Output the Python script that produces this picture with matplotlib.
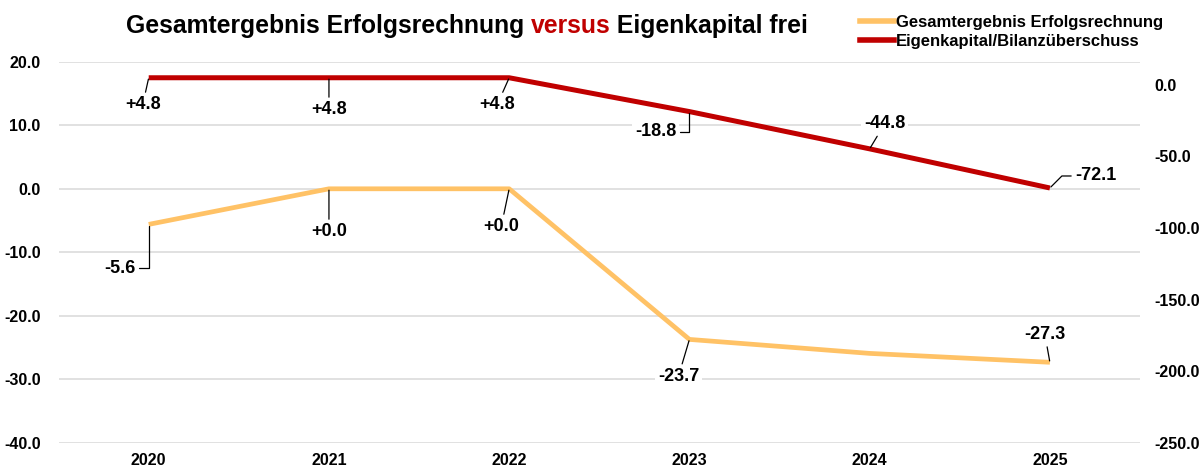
import matplotlib
matplotlib.use("Agg")
import matplotlib.pyplot as plt
from matplotlib.lines import Line2D

plt.rcParams['font.family'] = ['Liberation Sans', 'DejaVu Sans']
plt.rcParams['font.weight'] = 'bold'

# ---- data ----
years = ["2020", "2021", "2022", "2023", "2024", "2025"]
gesamtergebnis = [-5.6, 0.0, 0.0, -23.7, -25.9, -27.3]
eigenkapital = [4.8, 4.8, 4.8, -18.8, -44.8, -72.1]
ges_labels = [True, True, True, True, False, True]
eig_labels = [True, True, True, True, True, True]
left_ticks = [20, 10, 0, -10, -20, -30, -40]
right_ticks = [0, -50, -100, -150, -200, -250]
series_names = ["Gesamtergebnis Erfolgsrechnung", "Eigenkapital/Bilanzüberschuss"]

# ---- style ----
ORANGE = "#FFC266"
RED = "#C00000"
GRID = "#D9D9D9"

# label offsets (pixels) and leader styles
ges_off = [(-29, -44), (0, -43), (-8, -38), (-11, -37), (0, 0), (-5, 28)]
ges_conn = ["angle,angleA=0,angleB=90,rad=0", None, None, None, None, None]
eig_off = [(-6, -27), (0, -32), (-12, -27), (-34, -20), (15, 25), (46, 12)]
eig_conn = [None, None, None, "angle,angleA=0,angleB=90,rad=0", None,
            "angle,angleA=0,angleB=45,rad=0"]

W, H = 1201, 468
fig = plt.figure(figsize=(W / 100, H / 100), dpi=100)
ax = fig.add_axes([58.6 / W, 1 - 443 / H, (1140 - 58.6) / W, (443 - 61.7) / H])
ax2 = ax.twinx()

x = list(range(len(years)))
ax.plot(x, gesamtergebnis, color=ORANGE, lw=3.4, solid_capstyle='butt', zorder=3)
ax2.plot(x, eigenkapital, color=RED, lw=3.6, solid_capstyle='butt', zorder=3)

ax.set_xlim(-0.5, len(years) - 0.5)
ax.set_ylim(-40, 20)
ax2.set_ylim(-250, 16)

ax.set_yticks(left_ticks)
ax.set_yticklabels([f"{v:.1f}" for v in left_ticks])
ax2.set_yticks(right_ticks)
ax2.set_yticklabels([f"{v:.1f}" for v in right_ticks])
ax.set_xticks(x)
ax.set_xticklabels(years)

for a in (ax, ax2):
    for s in a.spines.values():
        s.set_visible(False)
    a.tick_params(length=0, labelsize=11.5)
ax.tick_params(axis='y', pad=13)
ax2.tick_params(axis='y', pad=10)
ax.tick_params(axis='x', pad=7)

ax.grid(axis='y', color=GRID, lw=1.1)
ax.set_axisbelow(True)
ax.set_zorder(1)
ax2.set_zorder(2)
ax2.patch.set_visible(False)


def fmt(v):
    return f"{v:+.1f}"


def annotate(axis, xs, ys, show, offs, conns):
    for xi, yi, sh, off, cs in zip(xs, ys, show, offs, conns):
        if not sh:
            continue
        ap = dict(arrowstyle='-', color='black', lw=0.9, shrinkA=1, shrinkB=1)
        if cs:
            ap['connectionstyle'] = cs
        axis.annotate(fmt(yi), xy=(xi, yi), xytext=off, textcoords='offset pixels',
                      ha='center', va='center', fontsize=13, fontweight='bold',
                      bbox=dict(boxstyle='square,pad=0.15', fc='white', ec='none'),
                      arrowprops=ap, zorder=5)


annotate(ax, x, gesamtergebnis, ges_labels, ges_off, ges_conn)
annotate(ax2, x, eigenkapital, eig_labels, eig_off, eig_conn)

# legend
handles = [Line2D([], [], color=ORANGE, lw=4), Line2D([], [], color=RED, lw=4)]
fig.legend(handles, series_names, loc='upper left', bbox_to_anchor=(860 / W, 1 - 15 / H),
           frameon=False, handlelength=2.05, handletextpad=0.12,
           labelspacing=0.22, borderaxespad=0, borderpad=0,
           prop={'weight': 'bold', 'size': 12})

# title in three colored pieces
parts = [("Gesamtergebnis Erfolgsrechnung ", "black"), ("versus", RED),
         (" Eigenkapital frei", "black")]
fig.canvas.draw()
r = fig.canvas.get_renderer()
texts = []
for s, c in parts:
    t = fig.text(0, 1 - 26 / H, s, color=c, fontsize=17.8, fontweight='bold', va='center', ha='left')
    texts.append(t)
widths = [t.get_window_extent(r).width for t in texts]
total = sum(widths)
start = 467 - total / 2
for t, w in zip(texts, widths):
    t.set_x(start / W)
    start += w

fig.savefig("out.png", dpi=100)
